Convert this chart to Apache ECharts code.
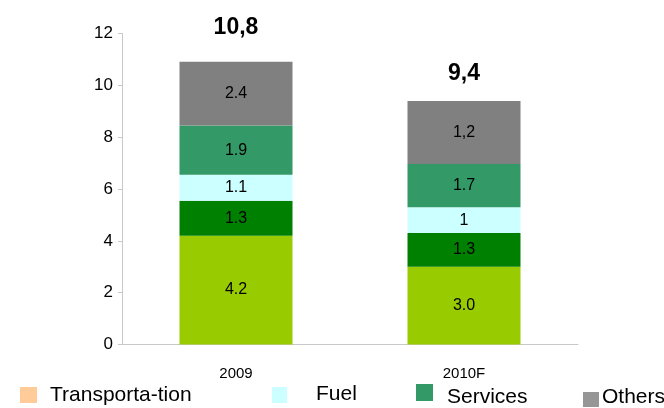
<!DOCTYPE html>
<html>
<head>
<meta charset="utf-8">
<script src="https://cdn.jsdelivr.net/npm/echarts@6/dist/echarts.min.js"></script>
<style>
html,body{margin:0;padding:0;background:#fff;}
#chart{width:664px;height:408px;}
</style>
</head>
<body>
<div id="chart"></div>
<script>
// ---- data ----
var categories = ['2009', '2010F'];
var seriesNames = ['Transporta-tion', 'Labour', 'Fuel', 'Services', 'Others'];
var seriesColors = ['#99CC00', '#008000', '#CCFFFF', '#339966', '#808080'];
// segment heights as drawn
var transportValues = [4.2, 3.0];
var labourValues = [1.35, 1.3];
var fuelValues = [1.0, 1.0];
var servicesValues = [1.9, 1.66];
var othersValues = [2.46, 2.44];
// segment labels as printed
var transportLabels = ['4.2', '3.0'];
var labourLabels = ['1.3', '1.3'];
var fuelLabels = ['1.1', '1'];
var servicesLabels = ['1.9', '1.7'];
var othersLabels = ['2.4', '1,2'];
// totals as printed
var totalLabels = ['10,8', '9,4'];
var yTicks = [0, 2, 4, 6, 8, 10, 12];
// legend
var legendNames = ['Transporta-tion', 'Fuel', 'Services', 'Others'];
var legendColors = ['#FFCC99', '#CCFFFF', '#339966', '#969696'];

var valueSets = [transportValues, labourValues, fuelValues, servicesValues, othersValues];
var labelSets = [transportLabels, labourLabels, fuelLabels, servicesLabels, othersLabels];

var sans = '"Liberation Sans",Arial,sans-serif';

var series = valueSets.map(function (vals, i) {
  return {
    name: seriesNames[i],
    type: 'bar',
    stack: 'total',
    barWidth: 113,
    itemStyle: { color: seriesColors[i] },
    label: {
      show: true,
      position: 'inside',
      fontFamily: sans,
      fontSize: 16,
      color: '#000',
      formatter: function (p) { return labelSets[i][p.dataIndex]; }
    },
    data: vals
  };
});
var totalDist = [23, 16];
series.push({
  name: 'total',
  type: 'bar',
  stack: 'total',
  barWidth: 113,
  itemStyle: { color: 'transparent' },
  data: categories.map(function (c, k) {
    return {
      value: 0,
      label: {
        show: true,
        position: 'top',
        distance: totalDist[k],
        fontFamily: sans,
        fontWeight: 'bold',
        fontSize: 23,
        color: '#000',
        formatter: function () { return totalLabels[k]; }
      }
    };
  }),
  silent: true
});

// legend swatches and texts (placement only)
var legendBoxes = [[20, 387, 17, 16], [272, 387, 15, 16], [416, 384, 17, 17], [583, 392, 16, 15]];
var legendText = [[50, 403], [316, 402], [447, 405], [602, 405]];
var graphics = [];
legendNames.forEach(function (n, i) {
  var b = legendBoxes[i];
  graphics.push({
    type: 'rect', left: b[0], top: b[1], silent: true,
    shape: { width: b[2], height: b[3] },
    style: { fill: legendColors[i] }
  });
  graphics.push({
    type: 'text', x: legendText[i][0], y: legendText[i][1] - 8, silent: true,
    style: { text: n, fontFamily: sans, fontSize: 21, fill: '#000', verticalAlign: 'middle', align: 'left' }
  });
});

var option = {
  animation: false,
  backgroundColor: '#fff',
  grid: { left: 122, right: 86, top: 33.5, bottom: 63.5 },
  graphic: graphics,
  xAxis: {
    type: 'category',
    data: categories,
    axisLine: { lineStyle: { color: '#c8c8c8', width: 1 } },
    axisTick: { show: false },
    axisLabel: { fontFamily: sans, fontSize: 15, color: '#000', margin: 22 }
  },
  yAxis: {
    type: 'value',
    min: yTicks[0],
    max: yTicks[yTicks.length - 1],
    interval: 2,
    axisLine: { show: true, lineStyle: { color: '#c8c8c8', width: 1 } },
    axisTick: { show: true, length: 4, lineStyle: { color: '#c8c8c8' } },
    splitLine: { show: false },
    axisLabel: { fontFamily: sans, fontSize: 17, color: '#000', margin: 9 }
  },
  series: series
};

var chart = echarts.init(document.getElementById('chart'), null, { renderer: 'canvas' });
chart.setOption(option);
</script>
</body>
</html>
